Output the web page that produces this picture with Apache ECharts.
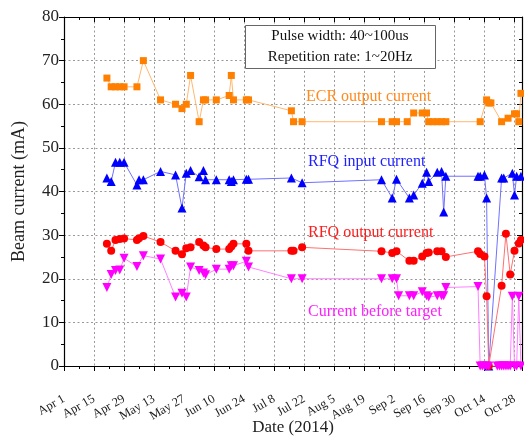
<!DOCTYPE html>
<html>
<head>
<meta charset="utf-8">
<script src="https://cdn.jsdelivr.net/npm/echarts@6/dist/echarts.min.js"></script>
<style>html,body{margin:0;padding:0;background:#fff}#c{width:524px;height:441px}</style>
</head>
<body>
<div id="c"></div>
<script>
// ---- data (year 2014) ----
var tickLabels = ['Apr 1','Apr 15','Apr 29','May 13','May 27','Jun 10','Jun 24','Jul 8','Jul 22','Aug 5','Aug 19','Sep 2','Sep 16','Sep 30','Oct 14','Oct 28'];

var ecrDates = ['04-21','04-23','04-25','04-27','04-29','05-05','05-08','05-16','05-23','05-26','05-28','05-30','06-03','06-05','06-06','06-11','06-17','06-18','06-19','06-25','06-26','07-16','07-17','07-21','08-27','09-01','09-03','09-08','09-11','09-15','09-17','09-18','09-20','09-22','09-24','09-26','10-12','10-15','10-16','10-17','10-22','10-25','10-28','10-29','10-30','10-31'];
var ecrValues = [66,64,64,64,64,64,70,61,60,59,60,66.6,56,61,61,61,62,66.6,61,61,61,58.5,56,56,56,56,56,56,58,58,58,56,56,56,56,56,56,61,60.3,60.3,56,56.8,57.8,57.8,56,62.5];

var rfqInDates = ['04-21','04-23','04-25','04-27','04-29','05-05','05-06','05-08','05-16','05-23','05-26','05-28','05-30','06-03','06-05','06-06','06-11','06-17','06-18','06-19','06-25','06-26','07-16','07-21','08-27','09-01','09-03','09-09','09-11','09-15','09-17','09-18','09-22','09-24','09-25','09-26','10-11','10-12','10-14','10-15','10-16','10-22','10-23','10-27','10-28','10-29','10-31'];
var rfqInValues = [43.1,42.3,46.7,46.7,46.7,41.5,42.7,42.7,44.6,43.8,36.2,44.2,44.8,43.4,44.8,42.7,42.7,42.7,42.3,42.7,42.8,42.8,43.1,42,42.7,38.5,42.8,38.5,39.2,41.9,44.4,42.3,44.4,44.6,35.3,43.5,43.5,43.5,43.8,38.5,0,43.1,43.1,44.2,39.2,43.5,43.5];

var rfqOutDates = ['04-21','04-23','04-25','04-27','04-29','05-05','05-06','05-08','05-16','05-23','05-26','05-28','05-30','06-03','06-05','06-06','06-11','06-17','06-18','06-19','06-25','06-26','07-16','07-17','07-21','08-27','09-01','09-03','09-09','09-11','09-15','09-17','09-18','09-22','09-24','09-26','10-11','10-12','10-14','10-15','10-16','10-22','10-24','10-26','10-28','10-30','10-31'];
var rfqOutValues = [28,26.4,28.9,29.1,29.2,28.9,29.3,29.8,28.4,26.4,25.6,27,27.2,28.4,27.6,27.2,26.8,26.8,27.4,28,28,26.4,26.4,26.4,27.2,26.3,25.9,26.3,24.1,24.1,25.1,25.9,26,26.3,26.3,25,26.3,25.7,25.1,16,0,18.4,30.3,21,26.4,28.1,28.9];

var targetDates = ['04-21','04-23','04-25','04-27','04-29','05-05','05-08','05-16','05-23','05-26','05-28','05-30','06-03','06-05','06-06','06-11','06-17','06-18','06-19','06-25','06-26','07-16','07-21','08-27','09-01','09-03','09-04','09-09','09-11','09-15','09-17','09-18','09-22','09-24','09-25','09-26','10-11','10-12','10-13','10-14','10-15','10-16','10-20','10-21','10-22','10-23','10-24','10-25','10-26','10-27','10-28','10-29','10-30','10-31'];
var targetValues = [18,21,21.9,22,24.7,22.8,25.3,24.5,15.8,16.7,15.8,22.7,21.9,21.3,20.9,22.2,22.2,23,23,24,22.7,20,20,20,20,20,16.1,16.1,16.1,17,16.1,15.8,16.1,16.1,16.1,18,18.2,0,0,0,0,0,0,0,0,0,0,0,0,16,0,0,16,0];

// days since Apr 1, 2014
function dayOf(md){
  var p = md.split('-');
  return (Date.UTC(2014, +p[0]-1, +p[1]) - Date.UTC(2014,3,1)) / 86400000;
}
function pairs(dates, vals){ return dates.map(function(d,i){ return [dayOf(d), vals[i]]; }); }

var SERIF = '"Liberation Serif", "Times New Roman", serif';
var chart = echarts.init(document.getElementById('c'), null, {renderer:'canvas'});

function xAxisBase(pos){
  return {
    type:'value', position:pos, min:0, max:213.5, interval:14,
    axisLine:{show:true, onZero:false, lineStyle:{color:'#000', width:1.2}},
    axisTick:{show:true, inside: pos==='top', length:5, lineStyle:{color:'#000'}},
    minorTick:{show:true, splitNumber:2, length:3, lineStyle:{color:'#000'}},
    splitLine:{show: pos==='bottom', lineStyle:{color:'#999', type:[2,2.5], width:1}},
    axisLabel:{show: pos==='bottom', rotate:30, margin:32, fontFamily:SERIF, fontSize:12.5, color:'#222',
      formatter:function(v){ var i = Math.round(v/14); return (Math.abs(v - i*14) < 1e-6 && tickLabels[i]) ? tickLabels[i] : ''; },
      showMaxLabel:false},
  };
}
function yAxisBase(pos){
  return {
    type:'value', position:pos, min:0, max:80, interval:10,
    axisLine:{show:true, onZero:false, lineStyle:{color:'#000', width:1.2}},
    axisTick:{show:true, inside: pos==='right', length:5, lineStyle:{color:'#000'}},
    minorTick:{show:true, splitNumber:2, length:3, lineStyle:{color:'#000'}},
    splitLine:{show: pos==='left', lineStyle:{color:'#999', type:[2,2.5], width:1}},
    axisLabel:{show: pos==='left', margin:5, fontFamily:SERIF, fontSize:17, color:'#222'}
  };
}

var xb = xAxisBase('bottom');
var yl = yAxisBase('left');
yl.name = 'Beam current (mA)'; yl.nameLocation='middle'; yl.nameGap=36;
yl.nameTextStyle = {fontFamily:SERIF, fontSize:18, color:'#222'};
var xt = xAxisBase('top');
var yr = yAxisBase('right');

function lineSeries(name, data, symbol, size, mColor, lColor){
  return {
    name:name, type:'line', data:data, symbol:symbol, symbolSize:size, clip:false,
    itemStyle:{color:mColor}, lineStyle:{color:lColor, width:1}, animation:false
  };
}

chart.setOption({
  animation:false,
  grid:{left:64, right:2, top:17, bottom:75, containLabel:false, outerBoundsMode:'none'},
  xAxis:[xb, xt],
  yAxis:[yl, yr],
  series:[
    lineSeries('ECR output current', pairs(ecrDates, ecrValues), 'rect', 7, '#FF7F00', '#FFB870'),
    lineSeries('RFQ input current', pairs(rfqInDates, rfqInValues), 'triangle', 9, '#0000FF', '#7070FF'),
    lineSeries('RFQ output current', pairs(rfqOutDates, rfqOutValues), 'circle', 8, '#FF0000', '#FF7070'),
    lineSeries('Current before target', pairs(targetDates, targetValues), 'path://M0,0 L10,0 L5,9 Z', 9, '#FF00FF', '#FF80FF')
  ],
  graphic:[
    {type:'text', x:293, y:428, style:{text:'Date (2014)', font:'17px '+SERIF, fill:'#222', align:'center', verticalAlign:'middle'}, z:101},
    {type:'rect', shape:{x:245.5, y:25.5, width:190, height:43}, style:{fill:'#fff', stroke:'#666', lineWidth:1}, z:100},
    {type:'text', x:340, y:36, style:{text:'Pulse width: 40~100us', font:'15px '+SERIF, fill:'#111', align:'center', verticalAlign:'middle'}, z:101},
    {type:'text', x:340, y:57, style:{text:'Repetition rate: 1~20Hz', font:'15px '+SERIF, fill:'#111', align:'center', verticalAlign:'middle'}, z:101},
    {type:'text', x:306, y:97, style:{text:'ECR output current', font:'16px '+SERIF, fill:'#FF8A1E', verticalAlign:'middle'}, z:101},
    {type:'text', x:308, y:162, style:{text:'RFQ input current', font:'16px '+SERIF, fill:'#1E1EFF', verticalAlign:'middle'}, z:101},
    {type:'text', x:308, y:233, style:{text:'RFQ output current', font:'16px '+SERIF, fill:'#FF1E1E', verticalAlign:'middle'}, z:101},
    {type:'text', x:308, y:312, style:{text:'Current before target', font:'16px '+SERIF, fill:'#FF1EFF', verticalAlign:'middle'}, z:101}
  ]
});
</script>
</body>
</html>
